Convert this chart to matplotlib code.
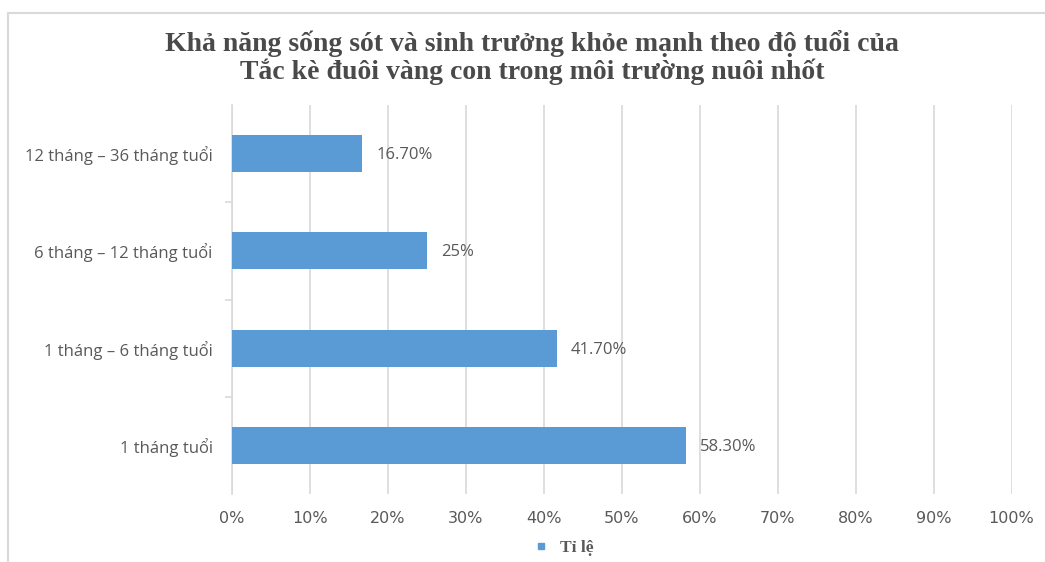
import matplotlib.pyplot as plt
from matplotlib.lines import Line2D
from matplotlib.ticker import PercentFormatter

# data
categories = ['1 tháng tuổi', '1 tháng – 6 tháng tuổi',
              '6 tháng – 12 tháng tuổi', '12 tháng – 36 tháng tuổi']
values = [58.3, 41.7, 25.0, 16.7]
value_labels = ['58.30%', '41.70%', '25%', '16.70%']
series_name = 'Tỉ lệ'
title = 'Khả năng sống sót và sinh trưởng khỏe mạnh theo độ tuổi của\nTắc kè đuôi vàng con trong môi trường nuôi nhốt'

bar_color = '#5b9bd5'
text_color = '#595959'
grid_color = '#d9d9d9'

fig = plt.figure(figsize=(10.45, 5.62), dpi=100)
ax = fig.add_axes([0.222, 0.121, 0.746, 0.692])

y = range(len(categories))
ax.barh(y, values, height=0.38, color=bar_color, zorder=3)
for yi, v, lab in zip(y, values, value_labels):
    ax.annotate(lab, (v, yi), xytext=(10, -1), textcoords='offset points',
                va='center', ha='left', fontsize=12, color=text_color,
                family='Open Sans')

ax.set_xlim(0, 100)
ax.set_ylim(-0.5, len(categories) - 0.5)
ax.set_xticks(range(0, 101, 10))
ax.xaxis.set_major_formatter(PercentFormatter(decimals=0))
ax.set_yticks(list(y))
ax.set_yticklabels(categories)
ax.set_yticks([0.5, 1.5, 2.5], minor=True)

ax.grid(axis='x', color=grid_color, lw=1.2, zorder=0)
for s in ['top', 'right', 'bottom']:
    ax.spines[s].set_visible(False)
ax.spines['left'].set_color(grid_color)
ax.spines['left'].set_linewidth(1.2)

ax.tick_params(axis='y', which='major', length=0, pad=14, labelsize=12,
               labelcolor=text_color)
ax.tick_params(axis='y', which='minor', length=5, color=grid_color, width=1.2)
ax.tick_params(axis='x', length=0, pad=12, labelsize=11.5, labelcolor=text_color)
for t in ax.get_yticklabels():
    t.set_family('Open Sans')
for t in ax.get_xticklabels():
    t.set_family('Liberation Sans Narrow')

fig.text(0.509, 0.898, title, ha='center', va='center', fontsize=20,
         fontweight='bold', family='Liberation Serif', color='#4a4a4a',
         linespacing=1.05)

# legend
handle = Line2D([], [], marker='s', ls='', color=bar_color, markersize=5)
fig.legend([handle], [series_name], loc='center', bbox_to_anchor=(0.535, 0.025),
           frameon=False, handletextpad=0.1,
           prop={'family': 'Liberation Serif', 'weight': 'bold', 'size': 12.5},
           labelcolor=text_color)

# chart border (top and left edges visible)
fig.add_artist(Line2D([0.008, 1.0], [0.977, 0.977], color='#d9d9d9', lw=1.5))
fig.add_artist(Line2D([0.008, 0.008], [0.0, 0.977], color='#d9d9d9', lw=1.5))

fig.savefig('out.png', dpi=100)
